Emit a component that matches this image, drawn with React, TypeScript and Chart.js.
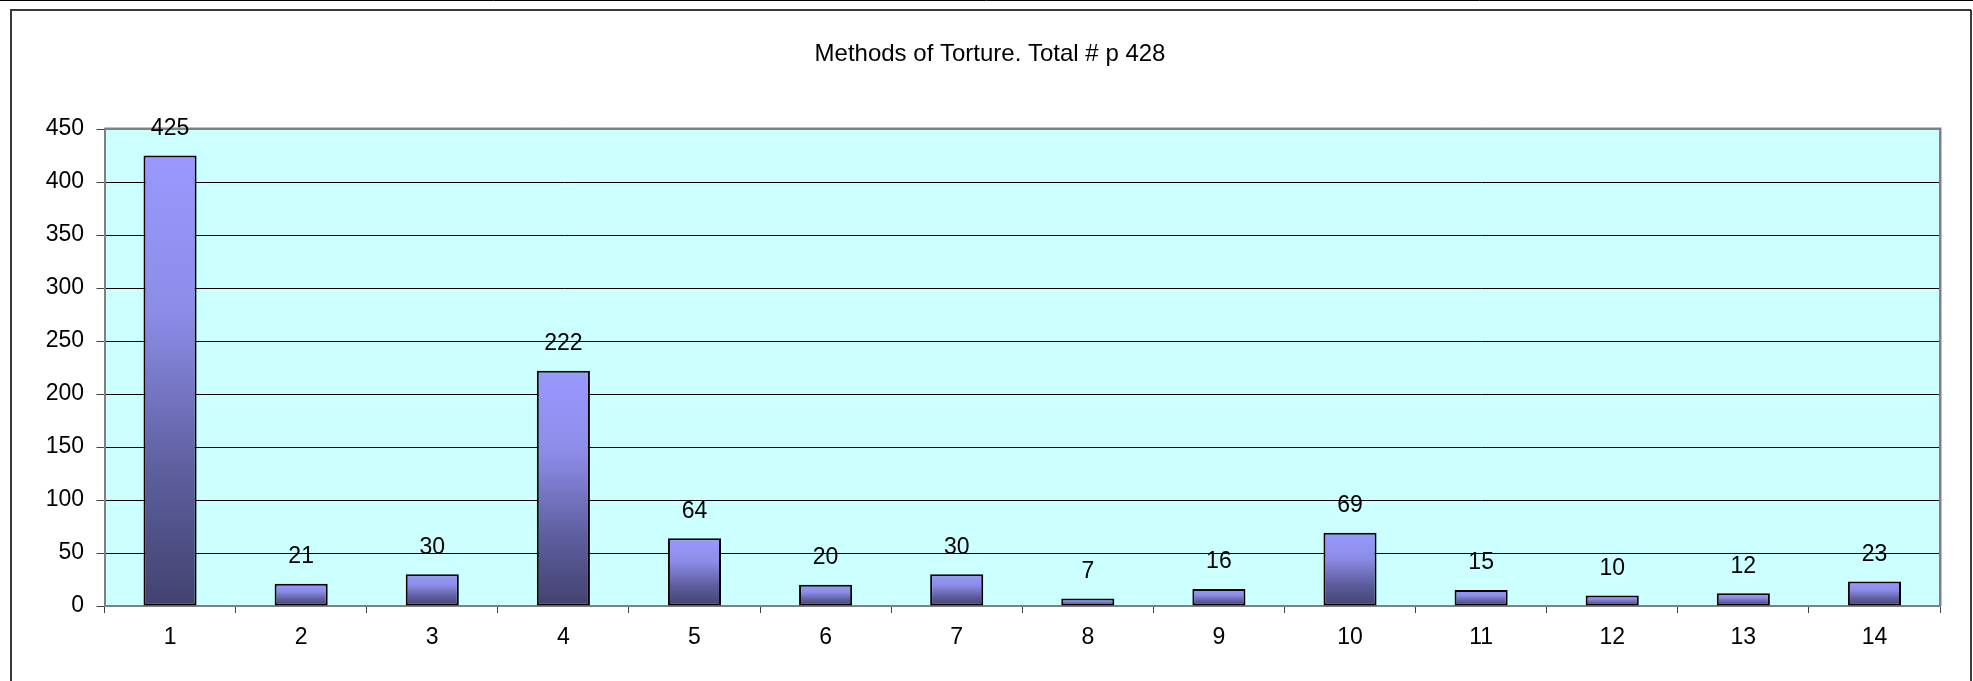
import React, { useEffect, useRef } from "react";
import { Chart, registerables } from "chart.js";

Chart.register(...registerables);

const TITLE = "Methods of Torture. Total # p 428";
const categories = ["1", "2", "3", "4", "5", "6", "7", "8", "9", "10", "11", "12", "13", "14"];
const values = [425, 21, 30, 222, 64, 20, 30, 7, 16, 69, 15, 10, 12, 23];
const yTicks = [0, 50, 100, 150, 200, 250, 300, 350, 400, 450];

const FONT = "'Liberation Sans', Arial, sans-serif";

const framePlugin = {
  id: "frame",
  beforeDraw(chart: any) {
    const { ctx, width, height, chartArea } = chart;
    ctx.save();
    ctx.fillStyle = "#ffffff";
    ctx.fillRect(0, 0, width, height);
    // top line
    ctx.strokeStyle = "#000000";
    ctx.lineWidth = 1;
    ctx.beginPath();
    ctx.moveTo(0, 0.5);
    ctx.lineTo(width, 0.5);
    ctx.stroke();
    // inner box
    ctx.strokeStyle = "#3a3a3a";
    ctx.lineWidth = 2;
    ctx.beginPath();
    ctx.moveTo(11, height + 2);
    ctx.lineTo(11, 10);
    ctx.lineTo(1971, 10);
    ctx.stroke();
    ctx.strokeStyle = "#000000";
    ctx.lineWidth = 1.5;
    ctx.beginPath();
    ctx.moveTo(1971, 10);
    ctx.lineTo(1971, height + 2);
    ctx.stroke();
    // plot background
    ctx.fillStyle = "#ccffff";
    ctx.fillRect(chartArea.left, chartArea.top, chartArea.right - chartArea.left, chartArea.bottom - chartArea.top);
    // title
    ctx.fillStyle = "#000000";
    ctx.font = "24px " + FONT;
    ctx.textAlign = "center";
    ctx.textBaseline = "middle";
    ctx.fillText(TITLE, 990, 54);
    ctx.restore();
  },
  afterDatasetsDraw(chart: any) {
    const { ctx, chartArea } = chart;
    ctx.save();
    // plot border top/right
    ctx.strokeStyle = "#c0c0c0";
    ctx.lineWidth = 1;
    ctx.beginPath();
    ctx.moveTo(chartArea.left, chartArea.top - 1.5);
    ctx.lineTo(chartArea.right + 1.5, chartArea.top - 1.5);
    ctx.lineTo(chartArea.right + 1.5, chartArea.bottom);
    ctx.stroke();
    ctx.strokeStyle = "#808080";
    ctx.lineWidth = 2;
    ctx.beginPath();
    ctx.moveTo(chartArea.left, chartArea.top);
    ctx.lineTo(chartArea.right, chartArea.top);
    ctx.lineTo(chartArea.right, chartArea.bottom);
    ctx.stroke();
    // data labels
    const meta = chart.getDatasetMeta(0);
    ctx.fillStyle = "#000000";
    ctx.font = "23px " + FONT;
    ctx.textAlign = "center";
    ctx.textBaseline = "middle";
    meta.data.forEach((bar: any, i: number) => {
      ctx.fillText(String(values[i]), bar.x, bar.y - 27);
    });
    ctx.restore();
  },
};

export default function App() {
  const ref = useRef<HTMLCanvasElement>(null);
  useEffect(() => {
    if (!ref.current) return;
    const chart = new Chart(ref.current, {
      type: "bar",
      data: {
        labels: categories,
        datasets: [
          {
            data: values,
            backgroundColor: (c: any) => {
              const ch = c.chart;
              const y = ch.scales && ch.scales.y;
              if (!y || c.dataIndex === undefined) return "#9999ff";
              const top = y.getPixelForValue(values[c.dataIndex]);
              const bottom = y.getPixelForValue(0);
              if (!isFinite(top) || !isFinite(bottom) || bottom - top < 1) return "#9999ff";
              const g = ch.ctx.createLinearGradient(0, top, 0, bottom);
              g.addColorStop(0, "#9999ff");
              g.addColorStop(0.35, "#8c8ce8");
              g.addColorStop(0.7, "#5e5e9e");
              g.addColorStop(1, "#424270");
              return g;
            },
            borderColor: "#000000",
            borderWidth: 2,
            borderSkipped: false,
            categoryPercentage: 1,
            barPercentage: 0.405,
          },
        ],
      },
      options: {
        animation: false,
        responsive: false,
        maintainAspectRatio: false,
        layout: { padding: { left: 0, right: 33, top: 129, bottom: 0 } },
        plugins: {
          legend: { display: false },
          title: { display: false },
          tooltip: { enabled: false },
        },
        scales: {
          x: {
            afterFit: (s: any) => {
              s.height = 75;
            },
            grid: {
              display: true,
              drawOnChartArea: false,
              drawTicks: true,
              offset: true,
              tickLength: 7,
              tickColor: "#404040",
              tickWidth: 1,
            },
            border: { display: true, color: "#808080", width: 2 },
            ticks: {
              color: "#000000",
              font: { family: FONT, size: 23 },
              padding: 11,
              maxRotation: 0,
              autoSkip: false,
            },
          },
          y: {
            min: 0,
            max: 450,
            afterFit: (s: any) => {
              s.width = 104.5;
            },
            afterBuildTicks: (s: any) => {
              s.ticks = yTicks.map((v) => ({ value: v }));
            },
            grid: {
              color: (c: any) => (c.tick && (c.tick.value === 0 || c.tick.value === 450) ? "rgba(0,0,0,0)" : "#000000"),
              lineWidth: 1,
              tickLength: 8,
              tickColor: "#404040",
            },
            border: { display: true, color: "#808080", width: 2 },
            ticks: {
              color: "#000000",
              font: { family: FONT, size: 23 },
              padding: 12.5,
            },
          },
        },
      },
      plugins: [framePlugin],
    });
    return () => chart.destroy();
  }, []);
  return (
    <div style={{ position: "absolute", left: 0, top: 0, width: 1973, height: 681 }}>
      <canvas ref={ref} width={1973} height={681} style={{ display: "block", width: 1973, height: 681 }} />
    </div>
  );
}
